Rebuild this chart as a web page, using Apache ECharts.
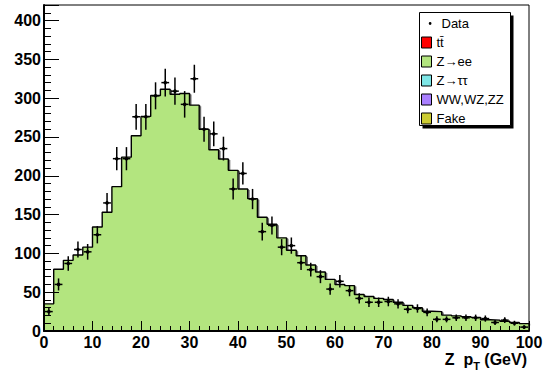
<!DOCTYPE html>
<html><head><meta charset="utf-8">
<script src="https://cdn.jsdelivr.net/npm/echarts@6/dist/echarts.min.js"></script>
<style>html,body{margin:0;padding:0;background:#fff}#c{width:547px;height:372px}</style>
</head><body><div id="c"></div>
<script>
// bin edges (GeV) and bin centres
const binLow = [0,2,4,6,8,10,12,14,16,18,20,22,24,26,28,30,32,34,36,38,40,42,44,46,48,50,52,54,56,58,60,62,64,66,68,70,72,74,76,78,80,82,84,86,88,90,92,94,96,98];
const binCenter = [1,3,5,7,9,11,13,15,17,19,21,23,25,27,29,31,33,35,37,39,41,43,45,47,49,51,53,55,57,59,61,63,65,67,69,71,73,75,77,79,81,83,85,87,89,91,93,95,97,99];
const binWidth = 2;
const xMax = 100;
// Z->ee MC (stacked total is indistinguishable)
const zeeValues = [35,79.5,91,98,108,134,153,186,224,251.5,276.5,303.5,311.5,305,306,291,260,233.5,221.5,207,183,170.5,146.5,137.5,120,104,97,85,76,66.5,60,58.5,47,44.5,42,40.5,37,33,30,25.5,25,20.5,19.5,18.5,17.5,14.5,14,12.5,11,9.5];
// observed data
const dataValues = [25,60,87,105,102,124,165,222,222,276,276,303,320,309,292,325,260,254,235,183,203,170,128,136,108,110,88,79,70,54,64,52,42,37,37,38,35,28,29,24,15,15,17,17,17,16,11,14,10,5];
// legend entries
const legendNames = ['Data','tt\u0304','Z\u2192ee','Z\u2192\u03c4\u03c4','WW,WZ,ZZ','Fake'];
const legendColors = ['#000000','#ff0000','#b3e57f','#7ee6e6','#aa80ff','#cccc33'];

const FONT = '"Liberation Sans", Arial, Helvetica, sans-serif';

const stepData = [[0,0]];
binLow.forEach((x,i)=>stepData.push([x, zeeValues[i]]));
stepData.push([xMax, zeeValues[zeeValues.length-1]]);
stepData.push([xMax, 0]);

const outlineData = binLow.map((x,i)=>[x, zeeValues[i]]);
const pts = binCenter.map((x,i)=>[x, dataValues[i]]);

const chart = echarts.init(document.getElementById('c'), null, {renderer:'svg'});
chart.setOption({
  animation:false,
  backgroundColor:'#fff',
  grid:{left:44,right:18,top:5,bottom:41,show:true,borderColor:'#000',borderWidth:1,backgroundColor:'#fff',containLabel:false,outerBoundsMode:'none'},
  xAxis:{type:'value',min:0,max:100,interval:10,z:5,
    axisLine:{show:true,onZero:false,lineStyle:{color:'#000',width:2}},
    axisTick:{show:true,inside:true,length:10,lineStyle:{color:'#000',width:1}},
    minorTick:{show:true,splitNumber:5,length:5,lineStyle:{color:'#000',width:1}},
    splitLine:{show:false},
    axisLabel:{margin:3,fontFamily:FONT,fontWeight:'bold',fontSize:16,color:'#000'}
  },
  yAxis:{type:'value',min:0,max:420,interval:50,z:5,
    axisLine:{show:true,onZero:false,lineStyle:{color:'#000',width:2}},
    axisTick:{show:true,inside:true,length:15,lineStyle:{color:'#000',width:1}},
    minorTick:{show:true,splitNumber:5,length:7,lineStyle:{color:'#000',width:1}},
    splitLine:{show:false},
    axisLabel:{margin:3,fontFamily:FONT,fontWeight:'bold',fontSize:16,color:'#000',showMaxLabel:false}
  },
  legend:{orient:'vertical',left:421,top:17,itemWidth:10,itemHeight:11,itemGap:6,padding:0,z:20,
    selectedMode:false,
    textStyle:{fontFamily:FONT,fontSize:13,color:'#000'},
    itemStyle:{borderColor:'#000',borderWidth:1},
    data:[
      {name:legendNames[0],icon:'path://M0,0h0.01M10,11h0.01M8.4,5.5a1.6,1.6 0 1,0 3.2,0a1.6,1.6 0 1,0 -3.2,0Z',itemStyle:{color:'#000',borderWidth:0},textStyle:{padding:[0,0,0,5]}},
      {name:legendNames[1],icon:'rect'},
      {name:legendNames[2],icon:'rect'},
      {name:legendNames[3],icon:'rect'},
      {name:legendNames[4],icon:'rect'},
      {name:legendNames[5],icon:'rect'}
    ]
  },
  graphic:[
    {type:'rect',shape:{x:422.5,y:15.5,width:91,height:113},style:{fill:'#000'},z:8},
    {type:'rect',shape:{x:419.5,y:12.5,width:91,height:113},style:{fill:'#fff',stroke:'#000',lineWidth:1},z:9},
    {type:'text',x:527,y:348,z:10,style:{
      text:'{a|Z  p}{s|T}{a| (GeV)}',align:'right',verticalAlign:'top',fill:'#000',
      rich:{a:{fontFamily:FONT,fontWeight:'bold',fontSize:16,fill:'#000'},
            s:{fontFamily:FONT,fontWeight:'bold',fontSize:11,fill:'#000',padding:[12,0,0,0]}}
    }}
  ],
  series:[
    {name:legendNames[2],type:'line',step:'end',data:stepData,symbol:'none',z:3,
      itemStyle:{color:legendColors[2]},
      lineStyle:{color:'#000',width:1.4},
      areaStyle:{color:legendColors[2],opacity:1,origin:'start'}},
    {name:'outline',type:'custom',z:2.5,data:outlineData,encode:{x:0,y:1},silent:true,
      renderItem:function(params, api){
        const i = params.dataIndex;
        const x0 = api.value(0), v = api.value(1);
        const prev = i>0 ? zeeValues[i-1] : 0;
        const a = api.coord([x0, prev]);
        const b = api.coord([x0, v]);
        const c = api.coord([x0+binWidth, v]);
        return {type:'polyline',shape:{points:[[a[0]+1.2,a[1]+1],[b[0]+1.2,b[1]+1],[c[0]+1.2,c[1]+1]]},
          style:{stroke:'#6a6a6a',lineWidth:1.6,fill:null}};
      }},
    {name:legendNames[1],type:'bar',data:[],itemStyle:{color:legendColors[1]}},
    {name:legendNames[3],type:'bar',data:[],itemStyle:{color:legendColors[3]}},
    {name:legendNames[4],type:'bar',data:[],itemStyle:{color:legendColors[4]}},
    {name:legendNames[5],type:'bar',data:[],itemStyle:{color:legendColors[5]}},
    {name:legendNames[0],type:'custom',z:4,data:pts,encode:{x:0,y:1},itemStyle:{color:'#000'},
      renderItem:function(params, api){
        const x = api.value(0), y = api.value(1), e = Math.sqrt(y);
        const c = api.coord([x,y]);
        const t = api.coord([x,y+e]);
        const b = api.coord([x,Math.max(0,y-e)]);
        const l = api.coord([x-0.8,y]);
        const r = api.coord([x+0.8,y]);
        return {type:'group',children:[
          {type:'line',shape:{x1:c[0],y1:t[1],x2:c[0],y2:b[1]},style:{stroke:'#000',lineWidth:1.5}},
          {type:'line',shape:{x1:l[0],y1:c[1],x2:r[0],y2:c[1]},style:{stroke:'#000',lineWidth:1.5}},
          {type:'circle',shape:{cx:c[0],cy:c[1],r:1.8},style:{fill:'#000'}}
        ]};
      }}
  ]
});
</script></body></html>
